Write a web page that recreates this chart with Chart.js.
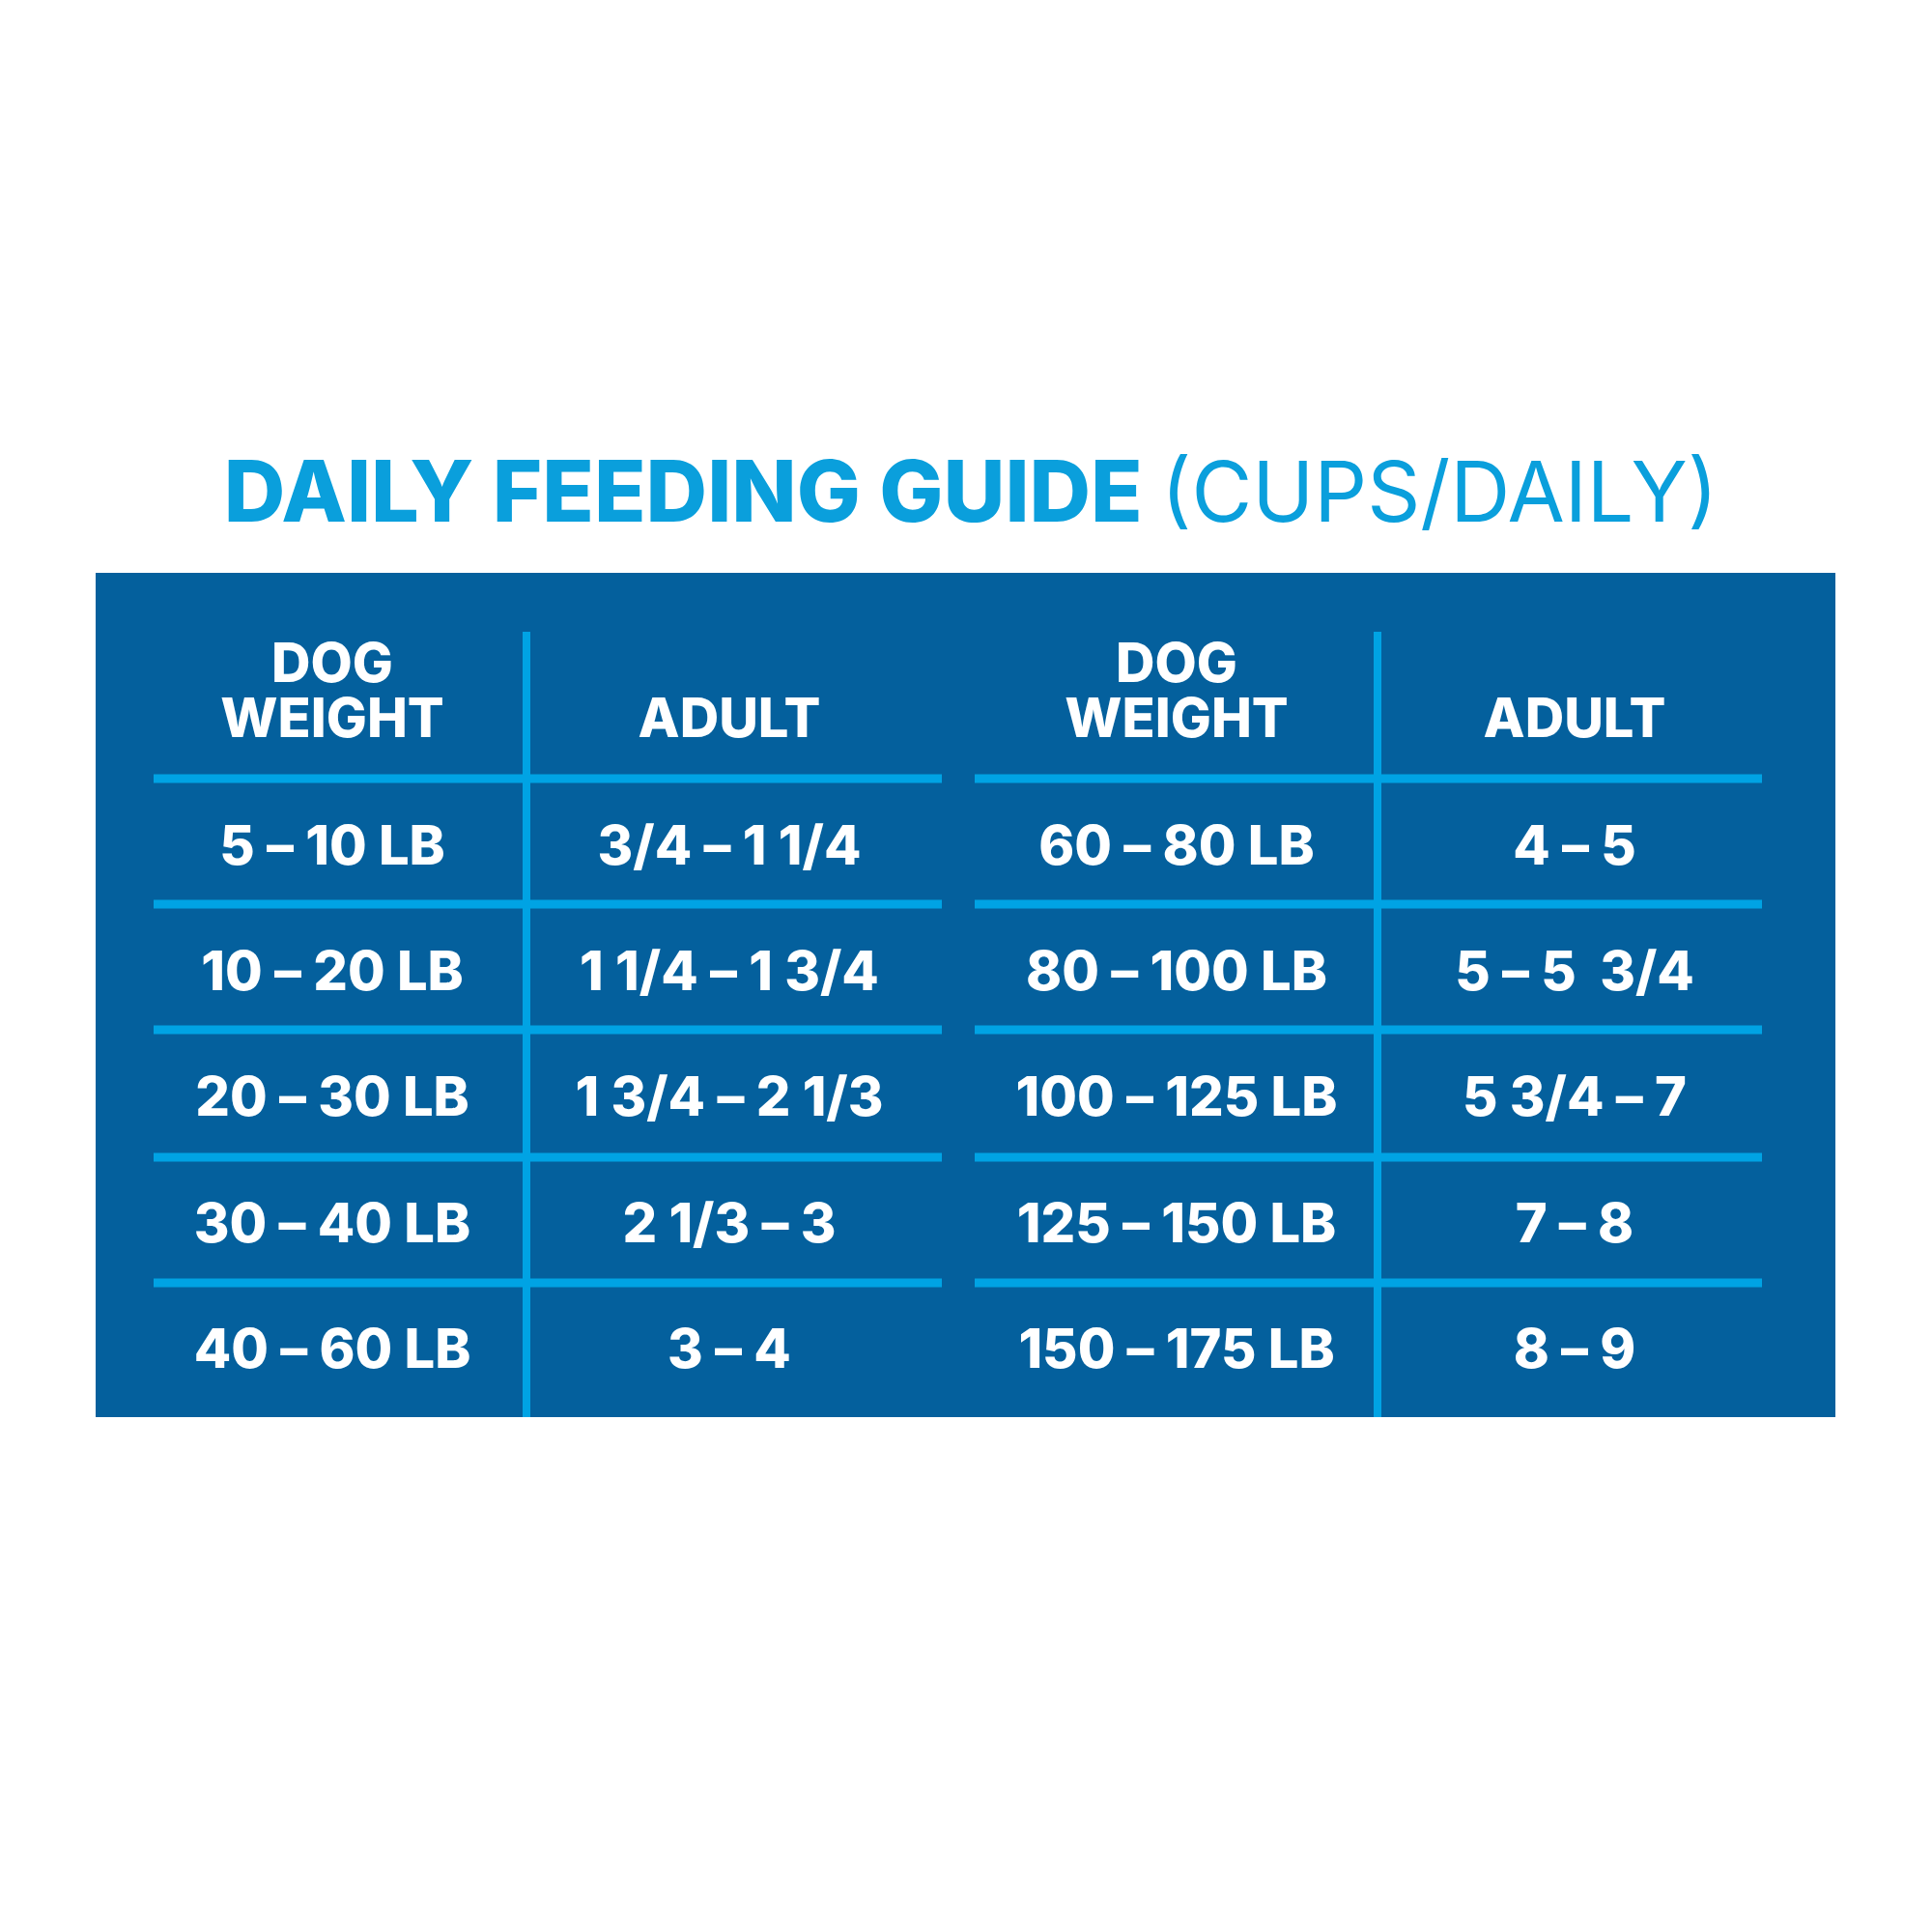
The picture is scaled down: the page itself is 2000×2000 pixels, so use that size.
<!DOCTYPE html>
<html><head><meta charset="utf-8">
<script src="https://cdn.jsdelivr.net/npm/chart.js@4"></script>
<style>html,body{margin:0;padding:0;background:#fff}#w{width:2000px;height:2000px}</style>
</head><body><div id="w"><canvas id="c"></canvas></div>
<script>
const title = "DAILY FEEDING GUIDE";
const subtitle = "(CUPS/DAILY)";
const headers = [["DOG","WEIGHT"],["ADULT"],["DOG","WEIGHT"],["ADULT"]];
const weightsLeft = ["5 – 10 LB","10 – 20 LB","20 – 30 LB","30 – 40 LB","40 – 60 LB"];
const adultLeft = ["3/4 – 1 1/4","1 1/4 – 1 3/4","1 3/4 – 2 1/3","2 1/3 – 3","3 – 4"];
const weightsRight = ["60 – 80 LB","80 – 100 LB","100 – 125 LB","125 – 150 LB","150 – 175 LB"];
const adultRight = ["4 – 5","5 – 5  3/4","5 3/4 – 7","7 – 8","8 – 9"];

const L = {panel:[99,593,1900,1467], colX:[344,755,1218,1630], vLines:[545,1426], vTop:654,
  hLines:[806,936,1066,1198,1328], segs:[[159,975],[1009,1824]], rowY:[878,1008,1138,1269,1399],
  headY:[689,746], titleY:514};

const tablePlugin = {id:'table', afterDraw(chart){
  const ctx=chart.ctx, xs=chart.scales.x, ys=chart.scales.y;
  const X=v=>xs.getPixelForValue(v), Y=v=>ys.getPixelForValue(v);
  ctx.save();
  ctx.fillStyle='#fff';ctx.fillRect(0,0,2000,2000);
  // title
  ctx.textBaseline='middle';ctx.textAlign='left';
  const f1='800 88px "Inter", "Open Sans", sans-serif', f2='400 86px "Inter", "Open Sans", sans-serif';
  ctx.font=f1;const w1=ctx.measureText(title+" ").width;ctx.font=f2;const w2=ctx.measureText(subtitle).width;
  let sx=X(1005)-(w1+w2)/2;
  ctx.fillStyle='#0A9FDC';ctx.font=f1;ctx.fillText(title+" ",sx,Y(L.titleY));
  ctx.font=f2;ctx.fillText(subtitle,sx+w1,Y(L.titleY));
  // panel
  const p=L.panel;ctx.fillStyle='#04609D';
  ctx.fillRect(X(p[0]),Y(p[1]),X(p[2])-X(p[0]),Y(p[3])-Y(p[1]));
  ctx.strokeStyle='#00A3E4';ctx.lineWidth=9;
  L.hLines.forEach(h=>L.segs.forEach(s=>{ctx.beginPath();ctx.moveTo(X(s[0]),Y(h));ctx.lineTo(X(s[1]),Y(h));ctx.stroke();}));
  ctx.lineWidth=8;
  L.vLines.forEach(v=>{ctx.beginPath();ctx.moveTo(X(v),Y(L.vTop));ctx.lineTo(X(v),Y(p[3]));ctx.stroke();});
  ctx.fillStyle='#fff';ctx.textAlign='center';ctx.font='800 56px "Inter", "Open Sans", sans-serif';
  headers.forEach((h,i)=>{const ys2=h.length===2?L.headY:[L.headY[1]];h.forEach((t,j)=>ctx.fillText(t,X(L.colX[i]),Y(ys2[j])));});
  [weightsLeft,adultLeft,weightsRight,adultRight].forEach((col,i)=>col.forEach((t,r)=>ctx.fillText(t,X(L.colX[i]),Y(L.rowY[r]))));
  ctx.restore();
}};
new Chart(document.getElementById('c'),{type:'scatter',data:{datasets:[{data:[]}]},
 options:{responsive:true,maintainAspectRatio:false,animation:false,layout:{padding:0},
  plugins:{legend:{display:false},tooltip:{enabled:false}},
  scales:{x:{type:'linear',min:0,max:2000,display:false},y:{type:'linear',min:0,max:2000,reverse:true,display:false}}},
 plugins:[tablePlugin]});
</script></body></html>
